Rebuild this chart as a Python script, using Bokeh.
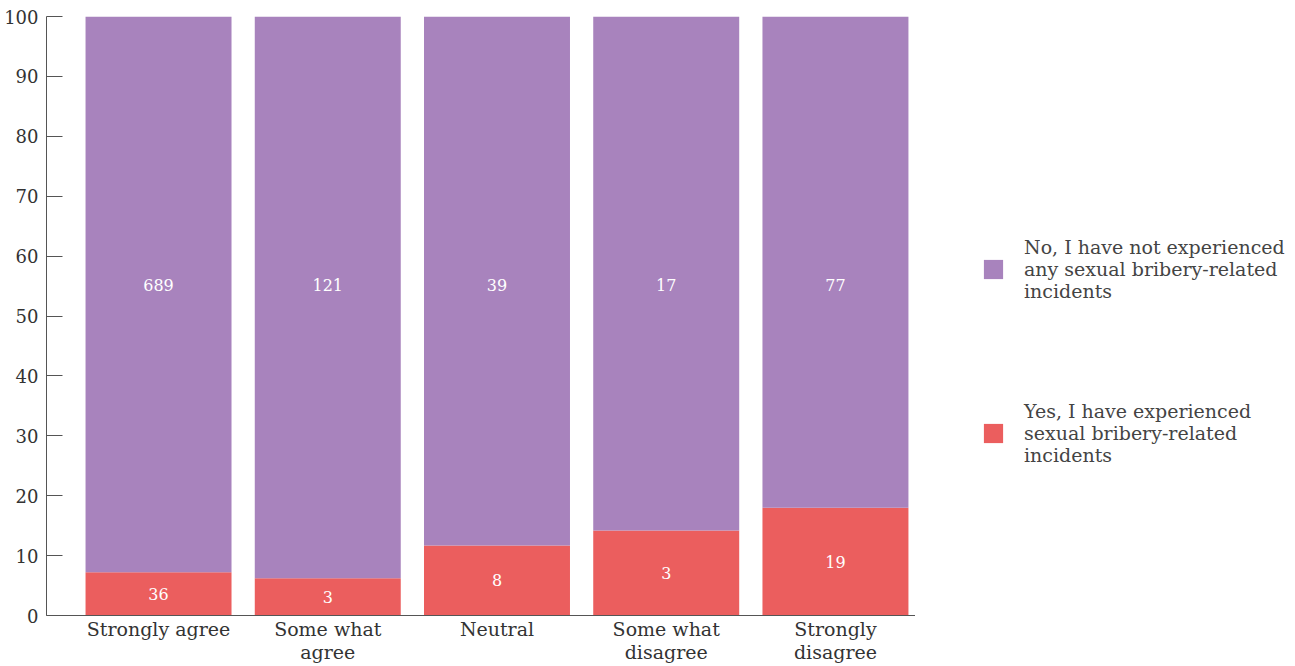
from bokeh.plotting import figure
from bokeh.layouts import row
from bokeh.models import ColumnDataSource, FixedTicker, Range1d, Legend, LegendItem, LabelSet
from bokeh.embed import file_html
from bokeh.resources import INLINE
from bokeh.core.properties import value

categories = ["Strongly agree", "Some what\nagree", "Neutral", "Some what\ndisagree", "Strongly\ndisagree"]
yes_pct = [7.2, 6.2, 11.7, 14.2, 18.0]
no_pct = [100 - v for v in yes_pct]
yes_n = [36, 3, 8, 3, 19]
no_n = [689, 121, 39, 17, 77]
y_ticks = [0, 10, 20, 30, 40, 50, 60, 70, 80, 90, 100]
legend_labels = ["No, I have not experienced\nany sexual bribery-related\nincidents",
                 "Yes, I have experienced\nsexual bribery-related\nincidents"]

NO_LABEL_Y = 55.2
PURPLE = "#a883bd"
RED = "#eb5e5e"
FONT = "DejaVu Serif"
TXT = "#444444"

x = list(range(len(categories)))
src = ColumnDataSource(dict(
    x=x, yes=yes_pct, no=no_pct,
    yes_lab=[str(v) for v in yes_n], no_lab=[str(v) for v in no_n],
    yes_y=[v / 2 for v in yes_pct], no_y=[NO_LABEL_Y] * len(x),
))

W1, W2, H = 915, 380, 666
p = figure(width=W1, height=H, output_backend="svg", toolbar_location=None,
           x_range=Range1d(-0.662, 4.473), y_range=Range1d(0, 100),
           min_border_left=46, min_border_right=0,
           min_border_top=16, min_border_bottom=0)
p.outline_line_color = None
p.grid.visible = False
p.background_fill_color = "white"
p.border_fill_color = "white"

rs = p.vbar_stack(["yes", "no"], x="x", width=0.8626, color=[RED, PURPLE],
                  line_color=None, source=src)

# labels inside bars
for ycol, tcol in (("yes_y", "yes_lab"), ("no_y", "no_lab")):
    p.add_layout(LabelSet(x="x", y=ycol, text=tcol, source=src, text_align="center",
                          text_baseline="middle", text_color="white", text_font=value(FONT),
                          text_font_size="16px"))

# axes
p.yaxis.ticker = FixedTicker(ticks=y_ticks)
p.yaxis.major_tick_in = 16
p.yaxis.major_tick_out = 0
p.yaxis.minor_tick_line_color = None
p.yaxis.major_label_standoff = 8
p.yaxis.major_label_text_font = FONT
p.yaxis.major_label_text_font_size = "18px"
p.yaxis.major_label_text_color = "#333333"
p.yaxis.axis_line_color = "#555555"
p.yaxis.major_tick_line_color = "#555555"

p.xaxis.ticker = FixedTicker(ticks=x)
p.xaxis.major_label_overrides = {i: c for i, c in zip(x, categories)}
p.xaxis.minor_tick_line_color = None
p.xaxis.major_tick_line_color = None
p.xaxis.major_tick_in = 0
p.xaxis.major_tick_out = 0
p.xaxis.major_label_standoff = 2
p.xaxis.major_label_text_font = FONT
p.xaxis.major_label_text_font_size = "19px"
p.xaxis.major_label_text_line_height = 1.07
p.xaxis.major_label_text_color = "#333333"
p.xaxis.axis_line_color = "#555555"

# legend panel (proxy bars from the same values, kept outside its visible range)
src2 = ColumnDataSource(dict(x=x, yes=yes_pct, no=no_pct))
p2 = figure(width=W2, height=H, output_backend="svg", toolbar_location=None,
            x_axis_type=None, y_axis_type=None, min_border=0,
            x_range=Range1d(-100, -99), y_range=Range1d(0, 100))
p2.outline_line_color = None
p2.grid.visible = False
p2.background_fill_color = "white"
p2.border_fill_color = "white"
rs2 = p2.vbar_stack(["yes", "no"], x="x", width=0.8626, color=[RED, PURPLE],
                    line_color=None, source=src2)

legend = Legend(items=[
    LegendItem(label=legend_labels[0], renderers=[rs2[1]]),
    LegendItem(label=legend_labels[1], renderers=[rs2[0]]),
], location=(66, 149), padding=0, margin=0, spacing=98,
    glyph_width=24, glyph_height=24, label_standoff=19,
    label_text_font=FONT, label_text_font_size="19px", label_text_color=TXT,
    border_line_color=None, background_fill_alpha=0)
p2.add_layout(legend, "center")

open("out.html", "w").write(file_html(row(p, p2), INLINE))
